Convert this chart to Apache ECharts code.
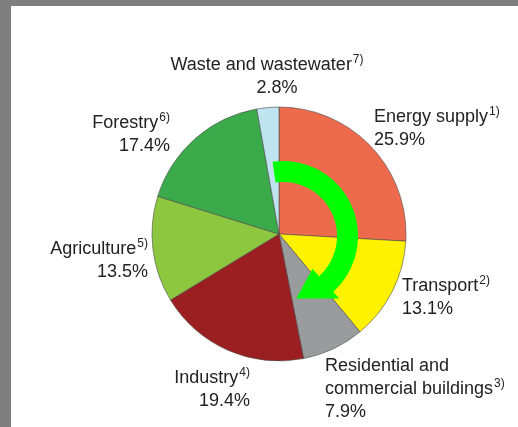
<!DOCTYPE html>
<html>
<head>
<meta charset="utf-8">
<script src="https://cdn.jsdelivr.net/npm/echarts@6/dist/echarts.min.js"></script>
<style>
  html, body { margin: 0; padding: 0; background: #7f7f7f; }
  #chart { width: 518px; height: 427px; }
</style>
</head>
<body>
<div id="chart"></div>
<script>
// Greenhouse gas emissions by sector (share of total, %)
const sectors = [
  'Energy supply', 'Transport', 'Residential and\ncommercial buildings',
  'Industry', 'Agriculture', 'Forestry', 'Waste and wastewater'
];
const footnotes = ['1)', '2)', '3)', '4)', '5)', '6)', '7)'];
const shares = [25.9, 13.1, 7.9, 19.4, 13.5, 17.4, 2.8];

const colors = ['#ee6a4c', '#fff200', '#9a9b9d', '#9b1f21', '#8dc63f', '#3aaa4b', '#bfe4ef'];

// label anchor: [x, y, align]
const labelAnchors = [
  [374, 129, 'left'],
  [402, 298, 'left'],
  [325, 389, 'left'],
  [250, 390, 'right'],
  [148, 261, 'right'],
  [170, 135, 'right'],
  [267, 77, 'center']
];

const CX = 279, CY = 234, R = 127;

// clockwise arrow drawn over the pie
function arrowPoints() {
  const c = [283, 236], rIn = 54, rOut = 75;
  const a0 = -8, a1 = 138;
  const pt = (deg, r) => {
    const t = deg * Math.PI / 180;
    return [c[0] + r * Math.sin(t), c[1] - r * Math.cos(t)];
  };
  const pts = [];
  for (let a = a0; a <= a1; a += 2) pts.push(pt(a, rOut));
  pts.push(pt(a1, 84));
  pts.push(pt(168, 64));
  pts.push(pt(a1, 44));
  for (let a = a1; a >= a0; a -= 2) pts.push(pt(a, rIn));
  return pts;
}

const chart = echarts.init(document.getElementById('chart'));
const font = '"Liberation Sans", Arial, Helvetica, sans-serif';

chart.setOption({
  animation: false,
  graphic: [
    {
      type: 'rect', z: -10, silent: true,
      shape: { x: 11, y: 6, width: 507, height: 421 },
      style: { fill: '#ffffff' }
    },
    {
      type: 'polygon', z: 100, silent: true,
      shape: { points: arrowPoints() },
      style: { fill: '#00ff00' }
    }
  ],
  series: [{
    type: 'pie',
    center: [CX, CY],
    radius: [0, R],
    startAngle: 90,
    clockwise: true,
    avoidLabelOverlap: false,
    itemStyle: { borderColor: '#4a4a4a', borderWidth: 0.6 },
    labelLine: { show: false },
    label: {
      show: true,
      position: 'outside',
      fontFamily: font,
      color: '#222',
      formatter: function (p) {
        const i = p.dataIndex;
        const lines = sectors[i].split('\n').map(s => '{n|' + s + '}');
        lines[lines.length - 1] += '{s|' + footnotes[i] + '}';
        const vTok = i === 6 ? 'vp' : 'v';
        lines.push('{' + vTok + '|' + shares[i].toFixed(1) + '%}');
        return lines.join('\n');
      },
      rich: {
        n: { fontSize: 18, lineHeight: 23, fontFamily: font, color: '#222' },
        s: { fontSize: 12, lineHeight: 23, fontFamily: font, color: '#222', verticalAlign: 'top', padding: [0, 0, 0, 1] },
        v: { fontSize: 18, lineHeight: 23, fontFamily: font, color: '#222' },
        vp: { fontSize: 18, lineHeight: 23, fontFamily: font, color: '#222', padding: [0, 0, 0, 20] }
      }
    },
    labelLayout: function (params) {
      const a = labelAnchors[params.dataIndex];
      return { x: a[0], y: a[1], align: a[2], verticalAlign: 'middle' };
    },
    data: sectors.map((name, i) => ({
      name: name,
      value: shares[i],
      itemStyle: { color: colors[i] }
    }))
  }]
});
</script>
</body>
</html>
